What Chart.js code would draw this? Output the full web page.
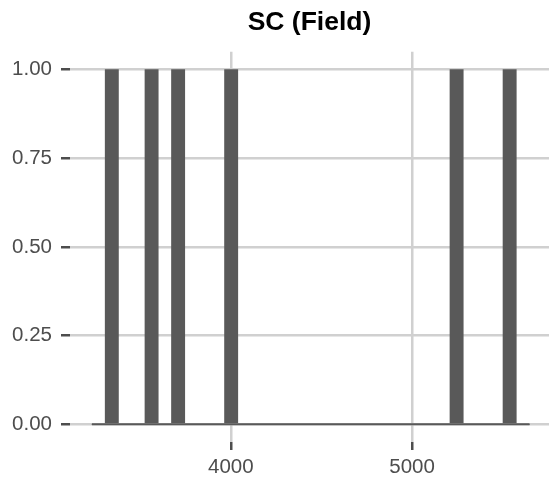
<!DOCTYPE html>
<html>
<head>
<meta charset="utf-8">
<script src="https://cdn.jsdelivr.net/npm/chart.js@4.4.1/dist/chart.umd.min.js"></script>
<style>
  body { margin: 0; background: #ffffff; }
  #wrap { width: 549px; height: 481px; }
</style>
</head>
<body>
<div id="wrap"><canvas id="myChart"></canvas></div>
<script>
// histogram bin centres (field value) and counts per bin
var binCenters = [
  3269.6, 3342.8, 3416.0, 3489.2, 3562.4, 3635.6, 3708.8, 3782.0, 3855.2, 3928.4,
  4001.6, 4074.8, 4148.0, 4221.2, 4294.4, 4367.6, 4440.8, 4514.0, 4587.2, 4660.4,
  4733.6, 4806.8, 4880.0, 4953.2, 5026.4, 5099.6, 5172.8, 5246.0, 5319.2, 5392.4,
  5465.6, 5538.8, 5612.0
];
var counts = [
  0, 1, 0, 0, 1, 0, 1, 0, 0, 0,
  1, 0, 0, 0, 0, 0, 0, 0, 0, 0,
  0, 0, 0, 0, 0, 0, 0, 1, 0, 0,
  0, 1, 0
];
// outer edges of the histogram (zero baseline)
var baselineX = [3233, 5648.6];
var xTicks = [4000, 5000];
var yTicks = [0, 0.25, 0.5, 0.75, 1];

var points = binCenters.map(function (c, i) { return { x: c, y: counts[i] }; });
var basePoints = baselineX.map(function (x) { return { x: x, y: 0 }; });

var gridColor = "#d0d0d0";
var tickColor = "#4d4d4d";
var labelColor = "#4d4d4d";

new Chart("myChart", {
  type: "bar",
  data: {
    datasets: [{
      type: "line",
      data: basePoints,
      borderColor: "#595959",
      borderWidth: 2,
      pointRadius: 0,
      order: 0
    }, {
      data: points,
      backgroundColor: "#595959",
      borderWidth: 0,
      barPercentage: 1,
      categoryPercentage: 1,
      order: 1
    }]
  },
  options: {
    responsive: true,
    maintainAspectRatio: false,
    animation: false,
    layout: { padding: 0 },
    plugins: {
      legend: { display: false },
      tooltip: { enabled: false },
      title: {
        display: true,
        fullSize: false,
        text: "SC (Field)",
        color: "#000000",
        font: { family: "Liberation Sans", size: 26.5, weight: "bold" },
        padding: { top: 7, bottom: 13 }
      }
    },
    scales: {
      x: {
        type: "linear",
        min: 3112,
        max: 5756,
        offset: false,
        afterFit: function (s) { s.height = 39; },
        afterBuildTicks: function (s) { s.ticks = xTicks.map(function (v) { return { value: v }; }); },
        border: { display: false },
        grid: {
          offset: false,
          color: gridColor,
          lineWidth: 2.5,
          tickColor: tickColor,
          tickWidth: 2.5,
          tickLength: 8
        },
        ticks: {
          includeBounds: false,
          maxRotation: 0,
          padding: 5,
          color: labelColor,
          font: { family: "Liberation Sans", size: 20.5 },
          callback: function (v) { return String(v); }
        }
      },
      y: {
        min: -0.05,
        max: 1.05,
        afterFit: function (s) { s.width = 70; },
        afterBuildTicks: function (s) { s.ticks = yTicks.map(function (v) { return { value: v }; }); },
        border: { display: false },
        grid: {
          color: gridColor,
          lineWidth: 2.5,
          tickColor: tickColor,
          tickWidth: 2.5,
          tickLength: 9
        },
        ticks: {
          includeBounds: false,
          padding: 9,
          color: labelColor,
          font: { family: "Liberation Sans", size: 20.5 },
          callback: function (v) { return Number(v).toFixed(2); }
        }
      }
    }
  }
});
</script>
</body>
</html>
